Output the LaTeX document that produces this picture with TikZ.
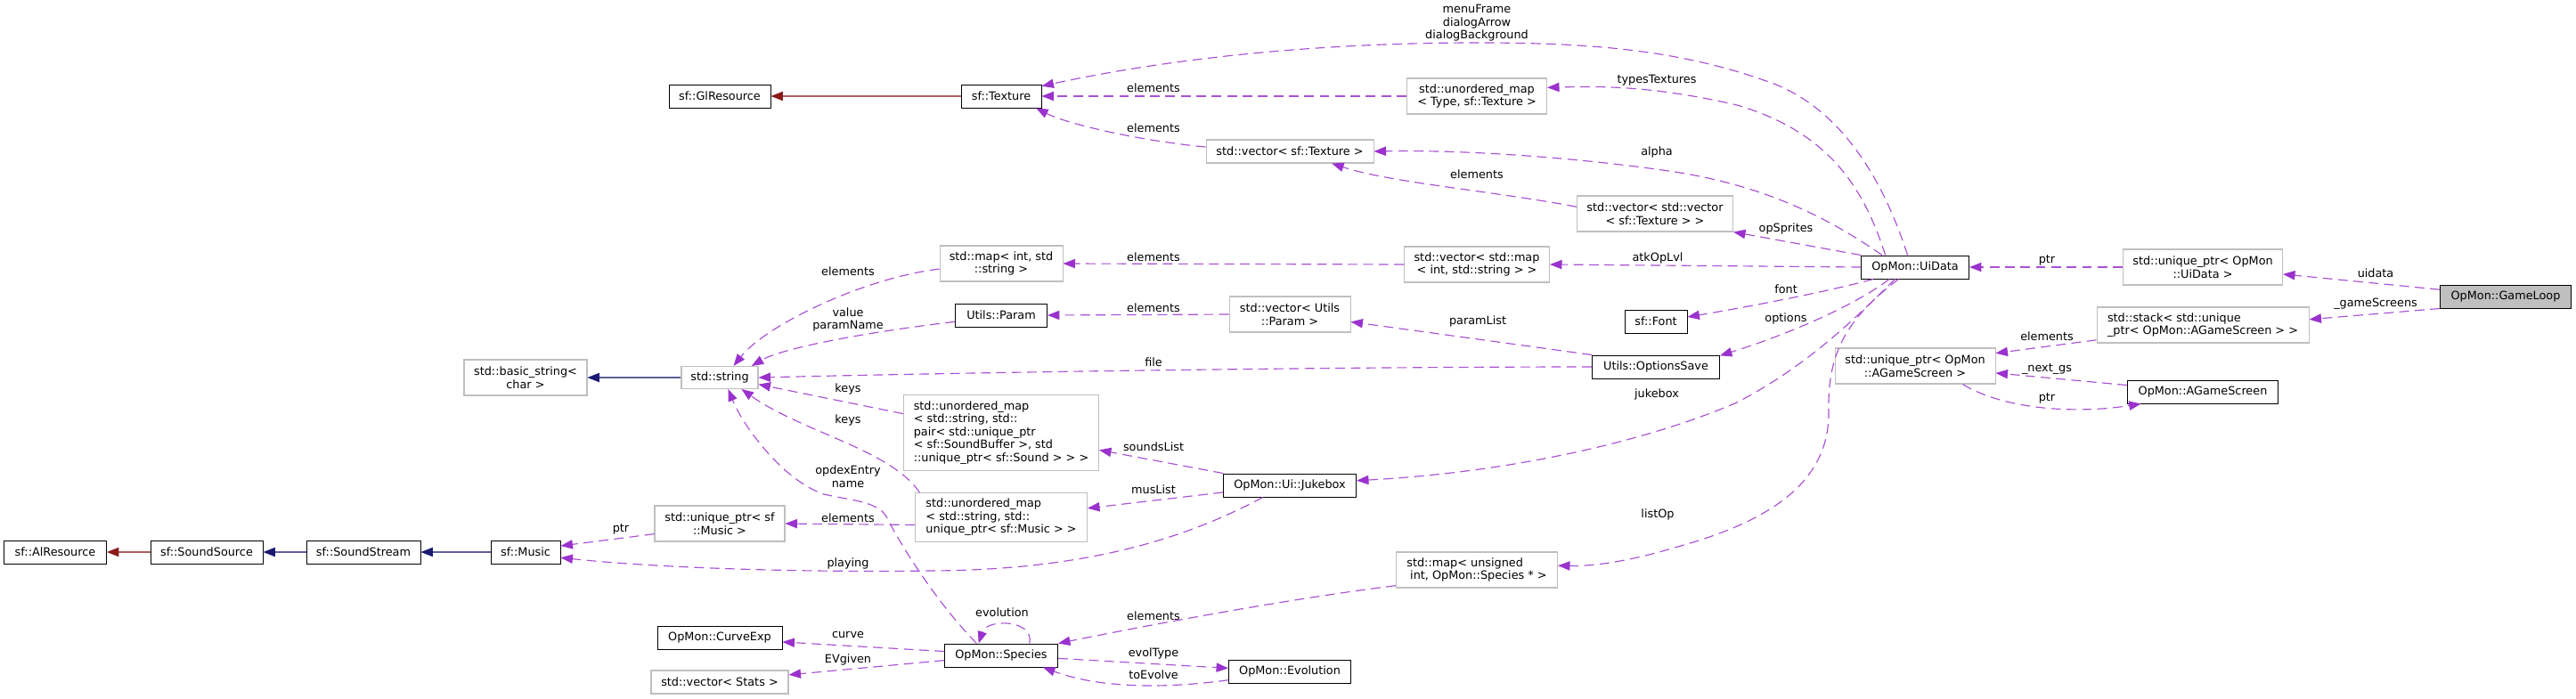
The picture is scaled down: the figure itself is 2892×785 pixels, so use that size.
\documentclass[tikz,border=0pt]{standalone}
\usepackage{fontspec}
\setmainfont{DejaVu Sans}
\usetikzlibrary{arrows.meta}
\definecolor{depc}{HTML}{9A32CD}
\definecolor{inhb}{HTML}{191970}
\definecolor{inhr}{HTML}{8B1A1A}
\definecolor{grayb}{HTML}{BFBFBF}
\definecolor{rootfill}{HTML}{BFBFBF}
\begin{document}
\begin{tikzpicture}[x=0.78pt,y=-0.78pt,
 font=\fontsize{10}{11.3}\selectfont,
 box/.style={draw=black,line width=0.75pt,inner sep=0pt,align=center,fill=white},
 gbox/.style={draw=grayb,line width=0.8pt,inner sep=0pt,align=center,fill=white},
 wd/.style={minimum width=#1*0.78pt},
 ht/.style={minimum height=#1*0.78pt},
 usearrow/.style={draw=depc!85!white,line width=0.9pt,dash pattern=on 8.5pt off 5pt,-{Triangle[length=10.5pt,width=8pt,color=depc]}},
 inhblue/.style={draw=inhb!70!white,line width=0.9pt,-{Triangle[length=10.5pt,width=8pt,color=inhb]}},
 inhred/.style={draw=inhr!70!white,line width=0.9pt,-{Triangle[length=10.5pt,width=8pt,color=inhr]}},
 lbl/.style={inner sep=0pt,align=center}
]
\fill[white] (0,0) rectangle (2892,785);
\useasboundingbox (0,0) rectangle (2892,785);

% nodes
\node[box,wd=114,ht=26] (glres) at (808,108) {sf::GlResource};
\node[box,wd=90,ht=26] (texture) at (1124,108) {sf::Texture};
\node[gbox,wd=157,ht=40] (umaptype) at (1658,108) {std::unordered\_map\\< Type, sf::Texture >};
\node[gbox,wd=188,ht=26] (vectex) at (1448,170) {std::vector< sf::Texture >};
\node[gbox,wd=175,ht=40] (vecvec) at (1858,240) {std::vector< std::vector\\< sf::Texture > >};
\node[gbox,wd=138,ht=40] (mapint) at (1124,296) {std::map< int, std\\::string >};
\node[gbox,wd=163,ht=40] (vecmap) at (1658,297) {std::vector< std::map\\< int, std::string > >};
\node[box,wd=103,ht=26] (param) at (1124,354) {Utils::Param};
\node[gbox,wd=136,ht=40] (vecparam) at (1448,353) {std::vector< Utils\\::Param >};
\node[box,wd=70,ht=26] (font) at (1859,361) {sf::Font};
\node[box,wd=143,ht=26] (options) at (1859,412) {Utils::OptionsSave};
\node[box,wd=121,ht=26] (uidata) at (2150,300) {OpMon::UiData};
\node[gbox,wd=180,ht=40] (uptrags) at (2150,411) {std::unique\_ptr< OpMon\\::AGameScreen >};
\node[gbox,wd=138,ht=40] (basicstr) at (590,424) {std::basic\_string<\\char >};
\node[gbox,wd=86,ht=25] (string) at (808,424) {std::string};
\node[gbox,wd=146,ht=40] (uptrmusic) at (808,588) {std::unique\_ptr< sf\\::Music >};
\node[box,wd=115,ht=26] (alres) at (62,620) {sf::AlResource};
\node[box,wd=126,ht=26] (soundsrc) at (232,620) {sf::SoundSource};
\node[box,wd=128,ht=26] (soundstream) at (408,620) {sf::SoundStream};
\node[box,wd=78,ht=26] (music) at (590,620) {sf::Music};
\node[box,wd=140,ht=26] (curve) at (808,716) {OpMon::CurveExp};
\node[gbox,wd=154,ht=26] (vecstats) at (808,766) {std::vector< Stats >};
\node[gbox,wd=219,ht=85,align=left] (umappair) at (1124,486) {std::unordered\_map\\< std::string, std::\\pair< std::unique\_ptr\\< sf::SoundBuffer >, std\\::unique\_ptr< sf::Sound > > >};
\node[gbox,wd=193,ht=55,align=left] (umapmusic) at (1124,581) {std::unordered\_map\\< std::string, std::\\unique\_ptr< sf::Music > >};
\node[box,wd=149,ht=26] (jukebox) at (1448,545) {OpMon::Ui::Jukebox};
\node[gbox,wd=181,ht=40,align=left] (mapuns) at (1658,640) {std::map< unsigned\\\hspace*{0.3em}int, OpMon::Species * >};
\node[box,wd=127,ht=26] (species) at (1124,736) {OpMon::Species};
\node[box,wd=137,ht=26] (evolution) at (1448,754) {OpMon::Evolution};
\node[gbox,wd=179,ht=40] (uptrui) at (2473,300) {std::unique\_ptr< OpMon\\::UiData >};
\node[box,fill=rootfill,wd=147,ht=26] (gameloop) at (2813,333) {OpMon::GameLoop};
\node[gbox,wd=238,ht=40,align=left] (stack) at (2473,365) {std::stack< std::unique\\\_ptr< OpMon::AGameScreen > >};
\node[box,wd=169,ht=26] (agamescreen) at (2473,440) {OpMon::AGameScreen};

% labels
\node[lbl] (lmenu) at (1658,26) {menuFrame\\dialogArrow\\dialogBackground};
\node[lbl] (lel1) at (1295,99) {elements};
\node[lbl] (lel2) at (1295,144) {elements};
\node[lbl] (ltypes) at (1860,90) {typesTextures};
\node[lbl] (lalpha) at (1860,171) {alpha};
\node[lbl] (lel3) at (1658,196) {elements};
\node[lbl] (lops) at (2005,257) {opSprites};
\node[lbl] (lel4) at (1295,289) {elements};
\node[lbl] (latk) at (1861,290) {atkOpLvl};
\node[lbl] (lel5) at (1295,346) {elements};
\node[lbl] (lparam) at (1659,361) {paramList};
\node[lbl] (lfont) at (2005,325) {font};
\node[lbl] (lopt) at (2005,358) {options};
\node[lbl] (lfile) at (1295,407) {file};
\node[lbl] (lel6) at (952,305) {elements};
\node[lbl] (lval) at (952,359) {value\\paramName};
\node[lbl] (lkeys1) at (952,437) {keys};
\node[lbl] (lkeys2) at (952,472) {keys};
\node[lbl] (lopdex) at (952,535) {opdexEntry\\name};
\node[lbl] (lel7) at (952,582) {elements};
\node[lbl] (lptr1) at (697,594) {ptr};
\node[lbl] (lplay) at (952,633) {playing};
\node[lbl] (lsounds) at (1295,502) {soundsList};
\node[lbl] (lmus) at (1295,550) {musList};
\node[lbl] (ljuke) at (1860,443) {jukebox};
\node[lbl] (llist) at (1861,578) {listOp};
\node[lbl] (lel8) at (1295,692) {elements};
\node[lbl] (levo) at (1125,688) {evolution};
\node[lbl] (lcurve) at (952,713) {curve};
\node[lbl] (lev) at (952,741) {EVgiven};
\node[lbl] (levt) at (1295,734) {evolType};
\node[lbl] (ltoe) at (1295,758) {toEvolve};
\node[lbl] (lptr2) at (2298,292) {ptr};
\node[lbl] (luid) at (2667,307) {uidata};
\node[lbl] (lgs) at (2667,341) {\_gameScreens};
\node[lbl] (lel9) at (2298,378) {elements};
\node[lbl] (lnext) at (2298,415) {\_next\_gs};
\node[lbl] (lptr3) at (2298,447) {ptr};

% edges
\draw[inhred] (texture.west) -- (glres.east);
\draw[usearrow] (uidata.122) .. controls (2120,220) and (2075,120) .. (1980,90) .. controls (1880,55) and (1780,48) .. (1658,48) .. controls (1500,48) and (1330,62) .. (texture.14);
\draw[usearrow] (umaptype.west) -- (texture.east);
\draw[usearrow] (vectex.177) .. controls (1280,158) and (1200,140) .. (texture.-19);
\draw[usearrow] (uidata.158) .. controls (2095,220) and (2060,150) .. (1950,118) .. controls (1850,95) and (1790,97) .. (umaptype.7);
\draw[usearrow] (uidata.160) .. controls (2060,250) and (1990,210) .. (1880,193) .. controls (1780,178) and (1650,168) .. (vectex.east);
\draw[usearrow] (vecvec.175) .. controls (1680,215) and (1560,205) .. (vectex.-16);
\draw[usearrow] (uidata.north west) -- (vecvec.south east);
\draw[usearrow] (vecmap.west) -- (mapint.east);
\draw[usearrow] (uidata.west) -- (vecmap.east);
\draw[usearrow] (vecparam.west) -- (param.east);
\draw[usearrow] (options.north west) -- (vecparam.-7);
\draw[usearrow] (uidata.196) .. controls (2050,328) and (1960,345) .. (font.8);
\draw[usearrow] (uidata.205) .. controls (2080,345) and (2000,378) .. (options.10);
\draw[usearrow] (options.west) .. controls (1500,412) and (1100,418) .. (string.east);
\draw[inhblue] (string.west) -- (basicstr.east);
\draw[usearrow] (mapint.185) .. controls (970,312) and (860,365) .. (string.40);
\draw[usearrow] (param.188) .. controls (980,372) and (880,390) .. (string.20);
\draw[usearrow] (umappair.169) -- (string.-10);
\draw[usearrow] (umapmusic.163) .. controls (1000,505) and (900,485) .. (string.-28);
\draw[usearrow] (species.154) .. controls (1050,675) and (1010,610) .. (995,580) .. controls (985,563) and (955,562) .. (925,555) .. controls (880,540) and (835,480) .. (string.-54);
\draw[usearrow] (umapmusic.185) -- (uptrmusic.east);
\draw[usearrow] (uptrmusic.189) -- (music.10);
\draw[usearrow] (jukebox.204) .. controls (1340,600) and (1230,640) .. (1046,641) .. controls (900,643) and (740,638) .. (music.-9);
\draw[usearrow] (jukebox.north west) -- (umappair.-10);
\draw[usearrow] (jukebox.186) -- (umapmusic.6);
\draw[usearrow] (uidata.211) .. controls (2080,360) and (2030,410) .. (1950,452) .. controls (1850,495) and (1700,530) .. (jukebox.4);
\draw[usearrow] (uidata.216) .. controls (2070,360) and (2052,400) .. (2053,460) .. controls (2055,540) and (1990,585) .. (1880,615) .. controls (1830,630) and (1790,636) .. (mapuns.3);
\draw[usearrow] (mapuns.191) .. controls (1450,672) and (1300,700) .. (species.north east);
\draw[usearrow] (species.23) .. controls (1162,696) and (1108,694) .. (species.152);
\draw[usearrow] (species.176) -- (curve.-4);
\draw[usearrow] (species.185) -- (vecstats.6);
\draw[usearrow] (species.-3) -- (evolution.177);
\draw[usearrow] (evolution.188) .. controls (1320,772) and (1240,775) .. (species.-16);
\draw[usearrow] (uptrui.west) -- (uidata.east);
\draw[usearrow] (gameloop.174) -- (uptrui.-5);
\draw[usearrow] (gameloop.south west) -- (stack.3);
\draw[usearrow] (stack.188) -- (uptrags.9);
\draw[usearrow] (agamescreen.175) -- (uptrags.-5);
\draw[usearrow] (uptrags.-21) .. controls (2250,460) and (2330,465) .. (agamescreen.191);
\draw[inhred] (soundsrc.west) -- (alres.east);
\draw[inhblue] (soundstream.west) -- (soundsrc.east);
\draw[inhblue] (music.west) -- (soundstream.east);
\end{tikzpicture}
\end{document}
